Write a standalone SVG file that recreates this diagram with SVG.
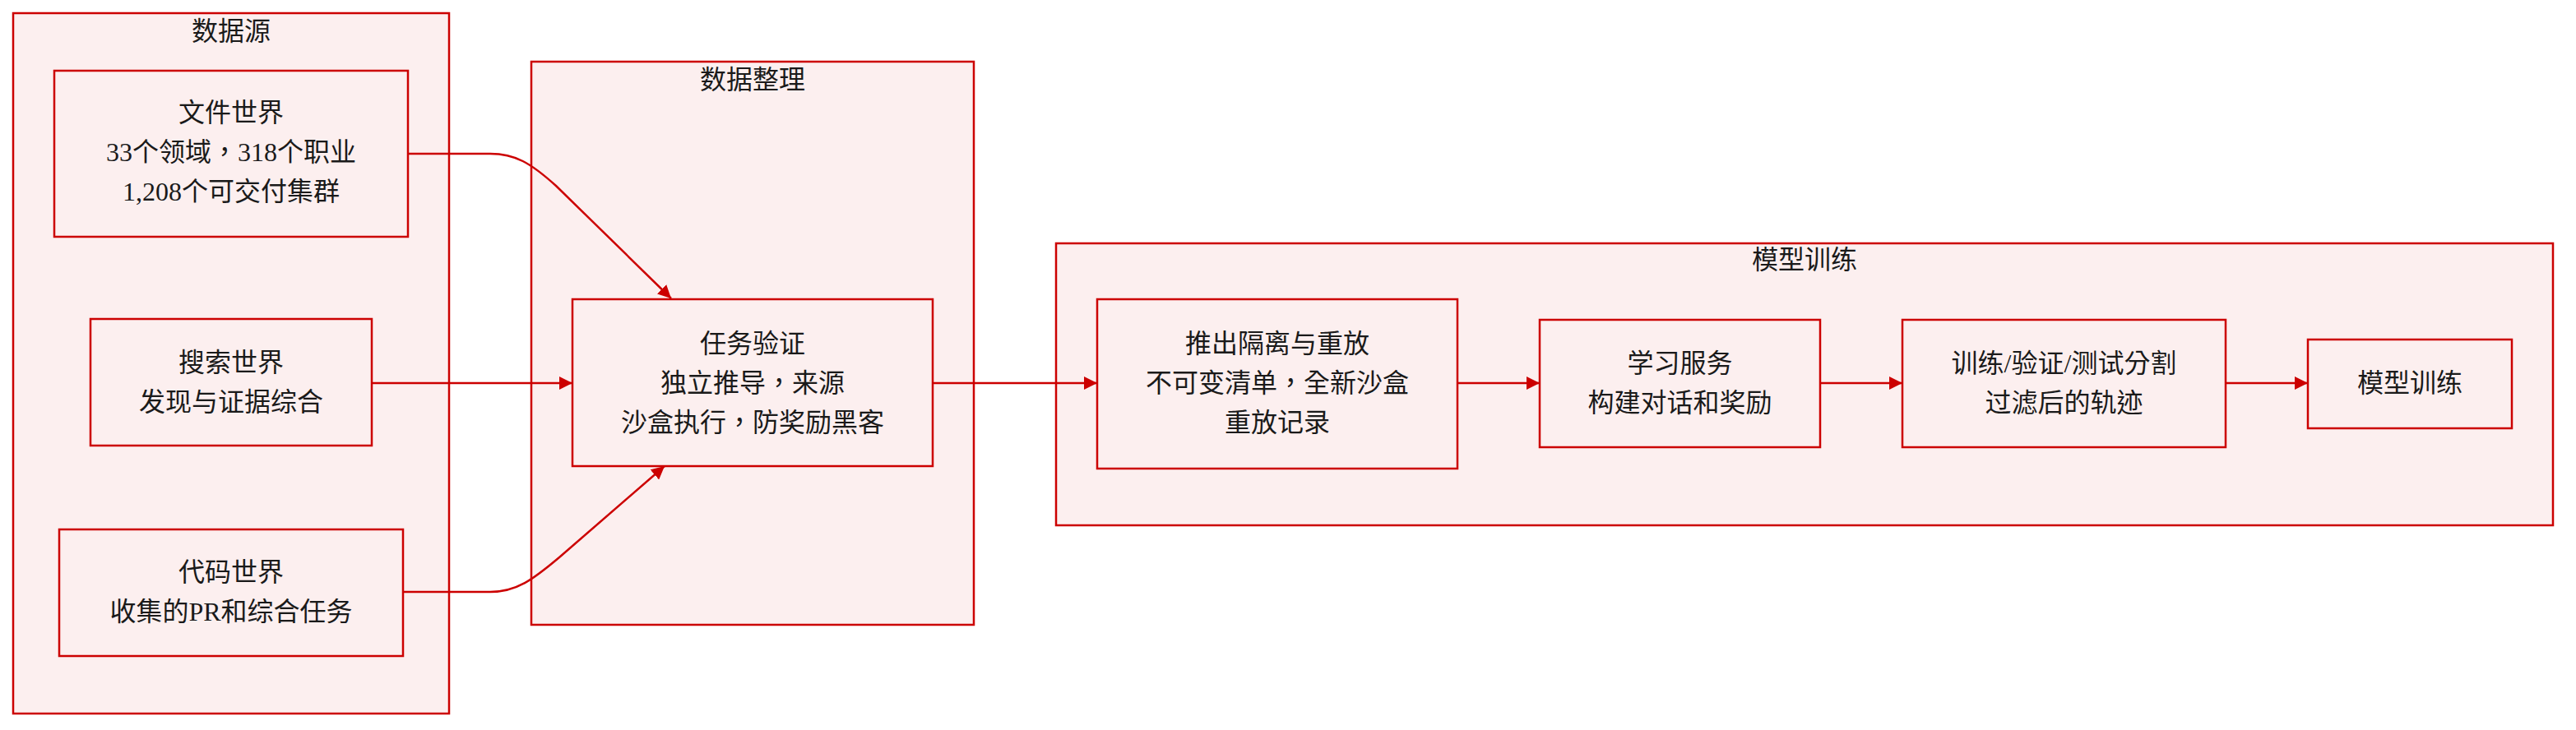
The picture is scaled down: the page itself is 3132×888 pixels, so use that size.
<svg xmlns="http://www.w3.org/2000/svg" width="3132" height="888" viewBox="0 0 3132 888">
<style>
.box{fill:#fcefef;stroke:#cc0000;stroke-width:2.5}
.t{font-family:"Liberation Serif","Noto Sans CJK TC",serif;font-size:32px;fill:#1a1a1a;text-anchor:middle}
.e{fill:none;stroke:#cc0000;stroke-width:2.5}
</style>
<defs>
<marker id="ah" viewBox="0 0 10 10" refX="10" refY="5" markerWidth="16" markerHeight="16" markerUnits="userSpaceOnUse" orient="auto">
<path d="M0,0 L10,5 L0,10 z" fill="#cc0000"/>
</marker>
</defs>
<rect width="3132" height="888" fill="#ffffff"/>
<g id="cluster-sources">
<rect class="box" x="16" y="16" width="530" height="852"/>
<text class="t" x="281" y="49">数据源</text>
</g>
<g id="cluster-prep">
<rect class="box" x="646" y="75" width="538" height="685"/>
<text class="t" x="915" y="108">数据整理</text>
</g>
<g id="cluster-train">
<rect class="box" x="1284" y="296" width="1820" height="343"/>
<text class="t" x="2194" y="327">模型训练</text>
</g>
<g id="node-file">
<rect class="box" x="66" y="86" width="430" height="202"/>
<text class="t" x="281" y="148">文件世界</text>
<text class="t" x="281" y="196">33个领域，318个职业</text>
<text class="t" x="281" y="244">1,208个可交付集群</text>
</g>
<g id="node-search">
<rect class="box" x="110" y="388" width="342" height="154"/>
<text class="t" x="281" y="452">搜索世界</text>
<text class="t" x="281" y="500">发现与证据综合</text>
</g>
<g id="node-code">
<rect class="box" x="72" y="644" width="418" height="154"/>
<text class="t" x="281" y="707">代码世界</text>
<text class="t" x="281" y="755">收集的PR和综合任务</text>
</g>
<g id="node-verify">
<rect class="box" x="696" y="364" width="438" height="203"/>
<text class="t" x="915" y="429">任务验证</text>
<text class="t" x="915" y="477">独立推导，来源</text>
<text class="t" x="915" y="525">沙盒执行，防奖励黑客</text>
</g>
<g id="node-rollout">
<rect class="box" x="1334" y="364" width="438" height="206"/>
<text class="t" x="1553" y="429">推出隔离与重放</text>
<text class="t" x="1553" y="477">不可变清单，全新沙盒</text>
<text class="t" x="1553" y="525">重放记录</text>
</g>
<g id="node-learn">
<rect class="box" x="1872" y="389" width="341" height="155"/>
<text class="t" x="2042.5" y="453">学习服务</text>
<text class="t" x="2042.5" y="501">构建对话和奖励</text>
</g>
<g id="node-split">
<rect class="box" x="2313" y="389" width="393" height="155"/>
<text class="t" x="2509.5" y="453">训练/验证/测试分割</text>
<text class="t" x="2509.5" y="501">过滤后的轨迹</text>
</g>
<g id="node-model">
<rect class="box" x="2806" y="413" width="248" height="108"/>
<text class="t" x="2930" y="477">模型训练</text>
</g>
<g id="connectors">
<path class="e" d="M496,187 L596,187 C626,187 645,198 676,226 L816,363" marker-end="url(#ah)"/>
<path class="e" d="M452,466 L696,466" marker-end="url(#ah)"/>
<path class="e" d="M490,720 L596,720 C628,720 648,705 680,678 L808,567" marker-end="url(#ah)"/>
<path class="e" d="M1134,466 L1334,466" marker-end="url(#ah)"/>
<path class="e" d="M1772,466 L1872,466" marker-end="url(#ah)"/>
<path class="e" d="M2213,466 L2313,466" marker-end="url(#ah)"/>
<path class="e" d="M2706,466 L2806,466" marker-end="url(#ah)"/>
</g>
</svg>
